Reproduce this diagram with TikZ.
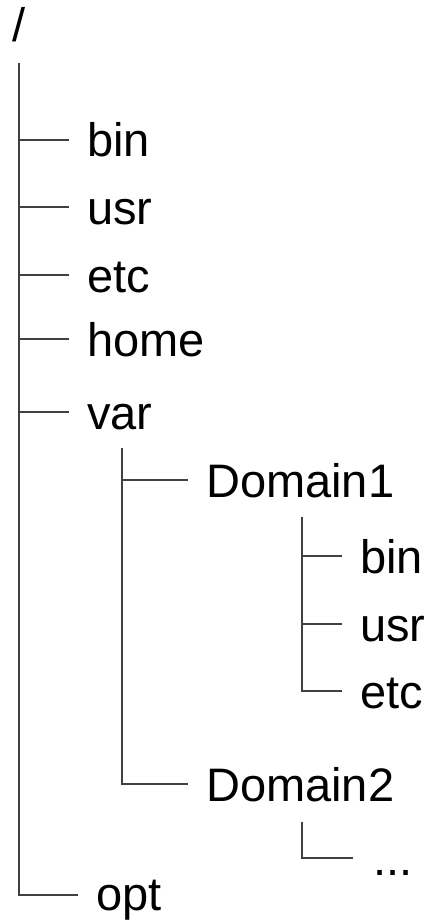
\documentclass[tikz,border=0pt]{standalone}
\usepackage{fontspec}
\setmainfont{Liberation Sans}
\begin{document}
\begin{tikzpicture}[x=1pt,y=1pt,
  lbl/.style={anchor=west, inner xsep=0pt, inner ysep=0pt, text height=34pt, text depth=0pt,
    font=\fontsize{47}{56}\selectfont},
  gap/.style={xshift=18pt},
  conn/.style={draw=black!75, line width=1.2pt}]
\useasboundingbox (0,0) rectangle (431,-920);
% labels
\node[lbl] (root) at (12,-25) {/};
\node[lbl,gap] (bin)  at (69,-140) {bin};
\node[lbl,gap] (usr)  at (69,-207) {usr};
\node[lbl,gap] (etc)  at (69,-275) {etc};
\node[lbl,gap] (home) at (69,-339) {home};
\node[lbl,gap] (var)  at (69,-412) {var};
\node[lbl,gap] (dom1) at (188,-480) {Domain1};
\node[lbl,gap] (dbin) at (342,-556) {bin};
\node[lbl,gap] (dusr) at (342,-624) {usr};
\node[lbl,gap] (detc) at (342,-691) {etc};
\node[lbl,gap] (dom2) at (188,-784) {Domain2};
\node[lbl,xshift=20pt] (dots) at (353,-858) {...};
\coordinate (optend) at (78,-895);
\node[lbl,gap,yshift=2pt] (opt) at (optend) {opt};
% trunk tops
\coordinate (t0) at (19,-63);
\coordinate (t1) at (122,-448);
\coordinate (t2) at (302,-517);
\coordinate (t3) at (302,-822);
% connectors
\draw[conn] (t0) |- (optend);
\draw[conn] (t0 |- bin.west) -- ([xshift=-18pt]bin.west);
\draw[conn] (t0 |- usr.west) -- ([xshift=-18pt]usr.west);
\draw[conn] (t0 |- etc.west) -- ([xshift=-18pt]etc.west);
\draw[conn] (t0 |- home.west) -- ([xshift=-18pt]home.west);
\draw[conn] (t0 |- var.west) -- ([xshift=-18pt]var.west);
\draw[conn] (t1) |- ([xshift=-18pt]dom2.west);
\draw[conn] (t1 |- dom1.west) -- ([xshift=-18pt]dom1.west);
\draw[conn] (t2) |- ([xshift=-18pt]detc.west);
\draw[conn] (t2 |- dbin.west) -- ([xshift=-18pt]dbin.west);
\draw[conn] (t2 |- dusr.west) -- ([xshift=-18pt]dusr.west);
\draw[conn] (t3) |- ([xshift=-20pt]dots.west);
\end{tikzpicture}
\end{document}
